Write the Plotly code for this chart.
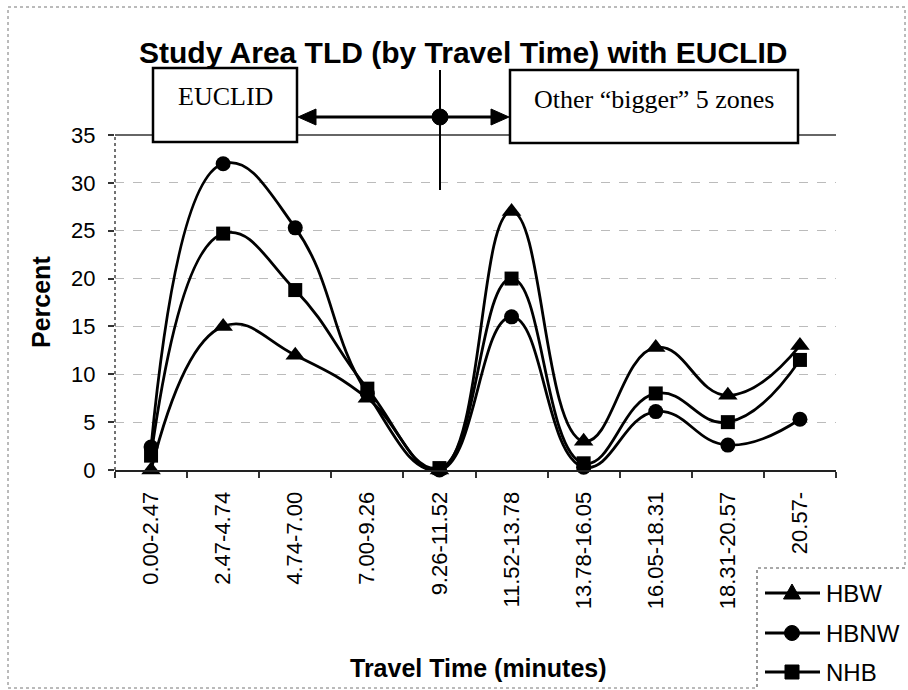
import plotly.graph_objects as go

# Travel-time bins (minutes) and percent of trips per purpose
categories = ["0.00-2.47", "2.47-4.74", "4.74-7.00", "7.00-9.26", "9.26-11.52",
              "11.52-13.78", "13.78-16.05", "16.05-18.31", "18.31-20.57", "20.57-"]
hbw = [0, 15, 12, 7.5, 0, 27, 3, 12.8, 7.8, 13]
hbnw = [2.4, 32, 25.3, 8.0, 0, 16, 0.3, 6.1, 2.6, 5.3]
nhb = [1.5, 24.7, 18.8, 8.5, 0.2, 20, 0.7, 8, 5, 11.5]
series_names = ["HBW", "HBNW", "NHB"]
series_symbols = ["triangle-up", "circle", "square"]
series_sizes = [17, 15, 14]
y_ticks = [0, 5, 10, 15, 20, 25, 30, 35]

SANS = "Liberation Sans, Arial, sans-serif"
SERIF = "Liberation Serif, Times New Roman, serif"

# Figure geometry (pixels)
W, H = 908, 690
ML, MR, MT, MB = 115, 72, 135, 220
PW, PH = W - ML - MR, H - MT - MB


def px(x):
    return (x - ML) / PW


def py(y):
    return (H - MB - y) / PH


fig = go.Figure()
for name, sym, size, vals in zip(series_names, series_symbols, series_sizes, [hbw, hbnw, nhb]):
    fig.add_trace(go.Scatter(
        x=categories, y=vals, name=name, mode="lines+markers",
        line=dict(shape="spline", smoothing=1.3, color="black", width=2.8),
        marker=dict(symbol=sym, size=size, color="black"),
        cliponaxis=False, showlegend=False,
    ))

shapes = [
    # outer frame
    dict(type="rect", xref="paper", yref="paper", x0=px(8), x1=px(905), y0=py(688), y1=py(7),
         line=dict(color="#777", width=1, dash="dot"), layer="below"),
    # left axis line
    dict(type="line", xref="paper", yref="paper", x0=0, x1=0, y0=0, y1=1,
         line=dict(color="#444", width=1.5, dash="dot")),
    # top border of plot area
    dict(type="line", xref="paper", yref="paper", x0=0, x1=1, y0=1, y1=1,
         line=dict(color="#333", width=1.5)),
    # zone boxes
    dict(type="rect", xref="paper", yref="paper", x0=px(153), x1=px(297), y0=py(142), y1=py(68),
         line=dict(color="black", width=2.5), fillcolor="white"),
    dict(type="rect", xref="paper", yref="paper", x0=px(510), x1=px(798), y0=py(143), y1=py(70),
         line=dict(color="black", width=2.5), fillcolor="white"),
    # divider line
    dict(type="line", xref="paper", yref="paper", x0=px(440), x1=px(440), y0=py(190), y1=py(70),
         line=dict(color="black", width=2)),
    # double-headed arrow shaft
    dict(type="line", xref="paper", yref="paper", x0=px(310), x1=px(497), y0=py(117), y1=py(117),
         line=dict(color="black", width=3)),
    # arrowheads
    dict(type="path", xref="paper", yref="paper",
         path=f"M {px(298)} {py(117)} L {px(316)} {py(109)} L {px(316)} {py(125)} Z",
         fillcolor="black", line=dict(color="black", width=1)),
    dict(type="path", xref="paper", yref="paper",
         path=f"M {px(509)} {py(117)} L {px(491)} {py(109)} L {px(491)} {py(125)} Z",
         fillcolor="black", line=dict(color="black", width=1)),
    # centre dot
    dict(type="circle", xref="paper", yref="paper", x0=px(432), x1=px(448), y0=py(125), y1=py(109),
         fillcolor="black", line=dict(color="black", width=1)),
    # legend box
    dict(type="rect", xref="paper", yref="paper", x0=px(757), x1=px(912), y0=py(694), y1=py(568),
         line=dict(color="#555", width=1.2, dash="dot"), fillcolor="white"),
]

annotations = [
    dict(text="Study Area TLD (by Travel Time) with EUCLID", xref="paper", yref="paper",
         x=px(463), y=py(53), xanchor="center", yanchor="middle", showarrow=False,
         font=dict(family=SANS, size=30, color="black", weight="bold")),
    dict(text="EUCLID", xref="paper", yref="paper", x=px(225), y=py(97),
         xanchor="center", yanchor="middle", showarrow=False,
         font=dict(family=SERIF, size=26, color="black")),
    dict(text="Other \u201cbigger\u201d 5 zones", xref="paper", yref="paper", x=px(654), y=py(100),
         xanchor="center", yanchor="middle", showarrow=False,
         font=dict(family=SERIF, size=26, color="black")),
    dict(text="Percent", xref="paper", yref="paper", x=px(41), y=py(302), textangle=-90,
         xanchor="center", yanchor="middle", showarrow=False,
         font=dict(family=SANS, size=25, color="black", weight="bold")),
    dict(text="Travel Time (minutes)", xref="paper", yref="paper", x=px(478), y=py(668),
         xanchor="center", yanchor="middle", showarrow=False,
         font=dict(family=SANS, size=25, color="black", weight="bold")),
]

# Legend keys: line sample, marker glyph and label for each series
legend_rows = [593, 633, 672]
for name, sym, ly in zip(series_names, series_symbols, legend_rows):
    shapes.append(dict(type="line", xref="paper", yref="paper", x0=px(765), x1=px(820),
                       y0=py(ly), y1=py(ly), line=dict(color="black", width=2.8)))
    cx = 792
    if sym == "triangle-up":
        shapes.append(dict(type="path", xref="paper", yref="paper",
                           path=f"M {px(cx)} {py(ly - 9)} L {px(cx + 8.5)} {py(ly + 6)} "
                                f"L {px(cx - 8.5)} {py(ly + 6)} Z",
                           fillcolor="black", line=dict(color="black", width=1)))
    elif sym == "circle":
        shapes.append(dict(type="circle", xref="paper", yref="paper",
                           x0=px(cx - 7.5), x1=px(cx + 7.5), y0=py(ly + 7.5), y1=py(ly - 7.5),
                           fillcolor="black", line=dict(color="black", width=1)))
    else:
        shapes.append(dict(type="rect", xref="paper", yref="paper",
                           x0=px(cx - 7), x1=px(cx + 7), y0=py(ly + 7), y1=py(ly - 7),
                           fillcolor="black", line=dict(color="black", width=1)))
    annotations.append(dict(text=name, xref="paper", yref="paper", x=px(824), y=py(ly),
                            xanchor="left", yanchor="middle", showarrow=False,
                            font=dict(family=SANS, size=24, color="black")))

fig.update_layout(
    width=W, height=H, template="none",
    margin=dict(l=ML, r=MR, t=MT, b=MB, autoexpand=False),
    paper_bgcolor="white", plot_bgcolor="white",
    font=dict(family=SANS, color="black"),
    shapes=shapes, annotations=annotations,
    showlegend=False,
    xaxis=dict(type="category", range=[-0.5, 9.5], tickson="boundaries",
               ticks="outside", ticklen=6, tickcolor="#333", tickwidth=1.5,
               tickangle=-90, tickfont=dict(family=SANS, size=22, color="black"),
               ticklabelstandoff=11,
               showline=True, linecolor="#222", linewidth=2, showgrid=False, zeroline=False),
    yaxis=dict(range=[0, 35], tickvals=y_ticks, ticks="outside", ticklen=6,
               tickcolor="#333", tickwidth=1.5, ticklabelstandoff=8,
               tickfont=dict(family=SANS, size=22, color="black"),
               showgrid=True, gridcolor="#bbb", gridwidth=1, griddash="dash",
               zeroline=False, showline=False),
)

fig.write_html("out.html")
